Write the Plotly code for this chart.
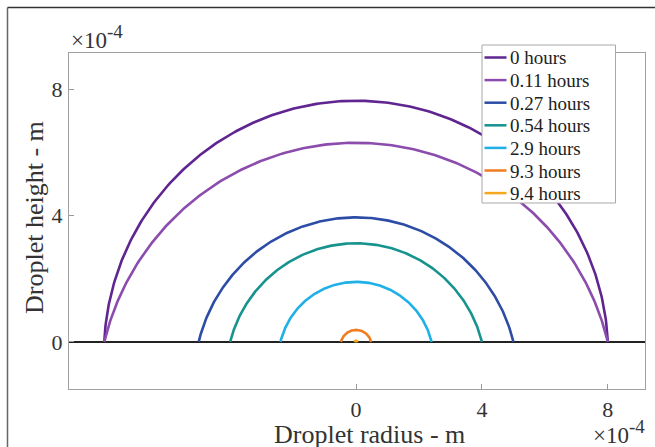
import numpy as np
import plotly.graph_objects as go

# Data (units of 1e-4 m)
labels = ["0 hours", "0.11 hours", "0.27 hours", "0.54 hours", "2.9 hours", "9.3 hours", "9.4 hours"]
base_radius = [8.0, 8.0, 5.0, 4.0, 2.4, 0.48, 0.06]
cap_height = [7.63, 6.30, 3.94, 3.12, 1.90, 0.38, 0.04]
colors = ["#5f2590", "#8b4cae", "#2c4ca6", "#17938f", "#1eb0e6", "#f07d21", "#f5a81e"]
tick_vals = [0, 4, 8]
tick_text = ["0", "4", "8"]
SCALE = 1e-4

W, H = 655, 447
L, R_, T, B = 69, 645, 53, 389
def px(x):
    return (x - L) / (R_ - L)
def py(y):
    return (B - y) / (B - T)

FF = "Liberation Serif, Times New Roman, serif"
TXT = "#333333"

fig = go.Figure()
for lab, a, h, c in zip(labels, base_radius, cap_height, colors):
    Rc = (a * a + h * h) / (2 * h)
    yc = h - Rc
    t0 = np.arcsin(np.clip(-yc / Rc, -1, 1))
    th = np.linspace(t0, np.pi - t0, 300)
    xs = Rc * np.cos(th) * SCALE
    ys = (yc + Rc * np.sin(th)) * SCALE
    fig.add_trace(go.Scatter(x=xs, y=ys, mode="lines", name=lab, showlegend=False,
                             line=dict(color=c, width=2.6)))

shapes = [
    # outer frame fragments
    dict(type="line", xref="paper", yref="paper", x0=px(7.5), x1=px(656),
         y0=py(7.5), y1=py(7.5), line=dict(color="#333333", width=1.5)),
    dict(type="line", xref="paper", yref="paper", x0=px(7.5), x1=px(7.5),
         y0=py(7.5), y1=py(448), line=dict(color="#666666", width=1.5)),
    # legend box
    dict(type="rect", xref="paper", yref="paper", x0=px(482), x1=px(615.5),
         y0=py(45), y1=py(203), fillcolor="white",
         line=dict(color="#a8a8a8", width=1), layer="above"),
]
annotations = []
row0, dy = 57.5, 22.6
for i, (lab, c) in enumerate(zip(labels, colors)):
    yy = row0 + dy * i
    shapes.append(dict(type="line", xref="paper", yref="paper", x0=px(484.5), x1=px(506.5),
                       y0=py(yy), y1=py(yy), line=dict(color=c, width=2.5), layer="above"))
    annotations.append(dict(text=lab, xref="paper", yref="paper", x=px(508), y=py(yy + 0.5),
                            xanchor="left", yanchor="middle", showarrow=False,
                            font=dict(size=19, family=FF, color="#222222")))

annotations += [
    dict(text="Droplet radius - m", xref="paper", yref="paper", x=px(369), y=py(434),
         xanchor="center", yanchor="middle", showarrow=False,
         font=dict(size=26, family=FF, color=TXT)),
    dict(text="Droplet height - m", xref="paper", yref="paper", x=px(34), y=py(218),
         xanchor="center", yanchor="middle", showarrow=False, textangle=-90,
         font=dict(size=26, family=FF, color=TXT)),
    dict(text="×10<sup><span style='font-size:19px'>-4</span></sup>", xref="paper", yref="paper",
         x=px(69), y=py(37), xanchor="left", yanchor="middle", showarrow=False,
         font=dict(size=23, family=FF, color=TXT)),
    dict(text="×10<sup><span style='font-size:19px'>-4</span></sup>", xref="paper", yref="paper",
         x=px(647), y=py(432), xanchor="right", yanchor="middle", showarrow=False,
         font=dict(size=23, family=FF, color=TXT)),
]

axis_common = dict(
    tickvals=[v * SCALE for v in tick_vals], ticktext=tick_text,
    ticks="inside", ticklen=5, tickcolor="#999999",
    showline=True, linecolor="#a0a0a0", linewidth=1, mirror=True,
    showgrid=False, automargin=False,
    tickfont=dict(size=22, family=FF, color=TXT),
)

fig.update_layout(
    width=W, height=H,
    margin=dict(l=L, r=W - R_, t=T, b=H - B, pad=0),
    paper_bgcolor="white", plot_bgcolor="white",
    font=dict(family=FF, color=TXT),
    showlegend=False,
    xaxis=dict(range=[-9.12 * SCALE, 9.18 * SCALE], zeroline=False,
               ticklabelstandoff=1, **axis_common),
    yaxis=dict(range=[-1.49 * SCALE, 9.14 * SCALE], zeroline=True,
               zerolinecolor="#222222", zerolinewidth=2,
               ticklabelstandoff=1, **axis_common),
    shapes=shapes,
    annotations=annotations,
)

fig.write_html("out.html", config={"displayModeBar": False},
               post_script="document.body.style.margin='0';document.body.style.padding='0';")
